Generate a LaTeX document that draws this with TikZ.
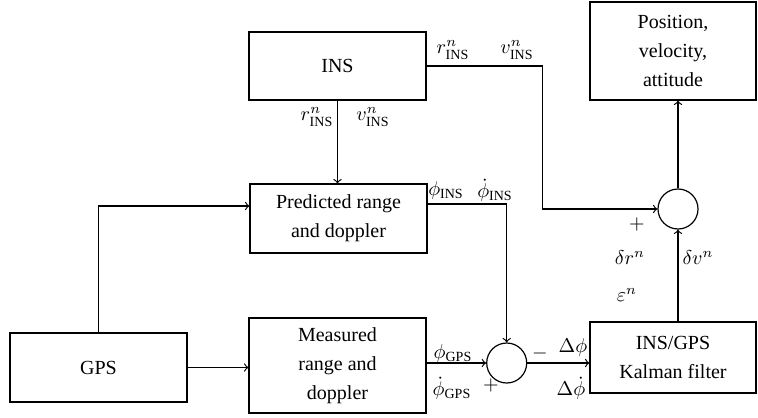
\documentclass[tikz,border=0pt]{standalone}
\RequirePackage{amsmath}
\RequirePackage{amssymb}
\RequirePackage{fontspec}
\setmainfont{Liberation Serif}
\RequirePackage{tikz}
\usetikzlibrary{calc}
\usetikzlibrary{positioning}

\tikzset{
    blk/.style={draw,semithick,inner sep=0pt,align=center,font=\fontsize{10}{14.5}\selectfont},
    sumnode/.style={draw,semithick,circle,minimum size=20pt,inner sep=0pt},
    lbl/.style={inner sep=0pt,font=\fontsize{10}{12}\selectfont},
    conn/.style={semithick,->,>=to}
}

\begin{document}
\begin{tikzpicture}[x=0.5pt,y=-0.5pt]
                \useasboundingbox (0,0) rectangle (758,417);

                \foreach \n/\x/\y/\w/\h/\t in{ins/337.5/66/88.5/34/{INS},
                    pos/673/51/83/49/{Position,\\velocity,\\attitude},
                    pred/338.5/218.5/88.5/34.5/{Predicted range\\and doppler},
                    meas/337.5/365.5/88.5/47.5/{Measured\\range and\\doppler},
                    gps/98.5/367.5/88.5/34.5/{GPS},
                    kal/673/357.5/83/35.5/{INS/GPS\\Kalman filter}}
                {
                    \node[blk,minimum width=\w pt,minimum height=\h pt] (\n) at (\x,\y) {\t};
                }

                \node[sumnode] (sum1) at (678,209) {};
                \node[sumnode] (sum2) at (506.7,363) {};

                \draw[conn] (ins.east) -- ++(116,0) |- (sum1.west);
                \draw[conn] (ins.south) -- (ins.south |- pred.north);
                \draw[conn] (gps.north) |- ($(pred.west)+(0,-12.5)$);
                \draw[conn] ($(pred.east)+(0,-14.5)$) -| (sum2.north);
                \draw[conn] (gps.east) -- (meas.west |- gps.east);
                \draw[conn] (meas.east |- sum2) -- (sum2.west);
                \draw[conn] (sum2.east) -- (kal.west |- sum2);
                \draw[conn] (kal.north -| sum1) -- (sum1.south);
                \draw[conn] (sum1.north) -- (sum1 |- pos.south);

                \foreach \n/\x/\y/\t in{rA/453/50/{$r^n_{\mathrm{INS}}$},vA/517/50/{$v^n_{\mathrm{INS}}$},
                    rB/317/117/{$r^n_{\mathrm{INS}}$},vB/373/117/{$v^n_{\mathrm{INS}}$},
                    phiI/446/190/{$\phi_{\mathrm{INS}}$},dphiI/495/190/{$\dot{\phi}_{\mathrm{INS}}$},
                    phiG/453/353/{$\phi_{\mathrm{GPS}}$},dphiG/452/388/{$\dot{\phi}_{\mathrm{GPS}}$},
                    plusB/491/385/{$+$},minusB/540/353/{$-$},
                    delphi/573/347/{$\Delta\phi$},deldphi/571/388/{$\Delta\dot{\phi}$},
                    plusA/637/224/{$+$},dr/630/258/{$\delta r^n$},dv/698/258/{$\delta v^n$},
                    eps/627/295/{$\varepsilon^n$}}
                {
                    \node[lbl] (\n) at (\x,\y) {\t};
                }
            \end{tikzpicture}
\end{document}
